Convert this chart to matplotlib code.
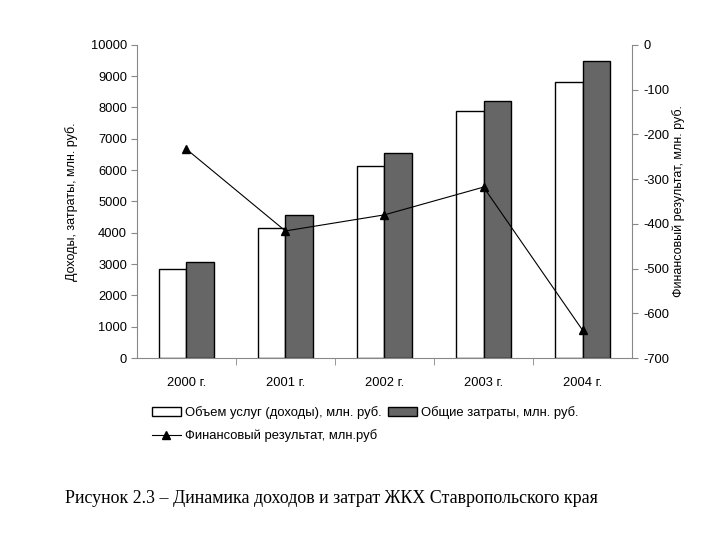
import matplotlib
matplotlib.use("Agg")
import matplotlib.pyplot as plt
import numpy as np

plt.rcParams['font.family'] = ['Liberation Sans', 'DejaVu Sans']
plt.rcParams['axes.unicode_minus'] = False

years = ["2000 г.", "2001 г.", "2002 г.", "2003 г.", "2004 г."]
income = [2830, 4150, 6130, 7890, 8820]
costs = [3050, 4580, 6550, 8210, 9490]
result = [-233, -416, -380, -318, -638]

fig = plt.figure(figsize=(7.2, 5.4), dpi=100)
ax = fig.add_axes([0.190, 0.337, 0.688, 0.580])
x = np.arange(len(years))
w = 0.28
b1 = ax.bar(x - w/2, income, w, color='white', edgecolor='black', linewidth=1.0, zorder=2,
            label='Объем услуг (доходы), млн. руб.')
b2 = ax.bar(x + w/2, costs, w, color='#666666', edgecolor='black', linewidth=1.0, zorder=2,
            label='Общие затраты, млн. руб.')
ax.set_ylim(0, 10000)
ax.set_xlim(-0.5, len(years) - 0.5)
ax.set_yticks(np.arange(0, 10001, 1000))
ax.set_xticks(x)
ax.set_xticklabels(years)
ax.set_xticks(np.arange(0.5, len(years) - 1, 1), minor=True)
ax.tick_params(axis='x', which='major', length=0, pad=14, labelsize=9.3)
ax.tick_params(axis='x', which='minor', length=5, color='#888888', direction='out')
ax.tick_params(axis='y', length=4, color='#888888', labelsize=9.3, pad=3)
for s in ['top', 'right']:
    ax.spines[s].set_visible(False)
for s in ['left', 'bottom']:
    ax.spines[s].set_color('#888888')
ax.set_ylabel('Доходы, затраты, млн. руб.', fontsize=9, labelpad=9)

ax2 = ax.twinx()
ln, = ax2.plot(x, result, color='black', linewidth=0.8, marker='^', markersize=5.5,
               label='Финансовый результат, млн.руб', zorder=3)
ax2.set_ylim(-700, 0)
ax2.set_yticks(np.arange(-700, 1, 100))
ax2.tick_params(axis='y', length=4, color='#888888', labelsize=9.3, pad=4)
for s in ['top', 'left', 'bottom']:
    ax2.spines[s].set_visible(False)
ax2.spines['right'].set_color('#888888')
ax2.set_ylabel('Финансовый результат, млн. руб.', fontsize=9, labelpad=2)

fig.legend([b1, ln, b2], [b1.get_label(), ln.get_label(), b2.get_label()],
           ncol=2, loc='upper left', bbox_to_anchor=(0.204, 0.257), frameon=False,
           fontsize=9.4, handlelength=2.2, handletextpad=0.3, columnspacing=0.5,
           labelspacing=0.75, borderaxespad=0)

fig.text(0.09, 0.068, 'Рисунок 2.3 – Динамика доходов и затрат ЖКХ Ставропольского края',
         fontsize=12.9, family=['Liberation Serif', 'DejaVu Serif'], ha='left', va='baseline')

fig.savefig('out.png', dpi=100)
